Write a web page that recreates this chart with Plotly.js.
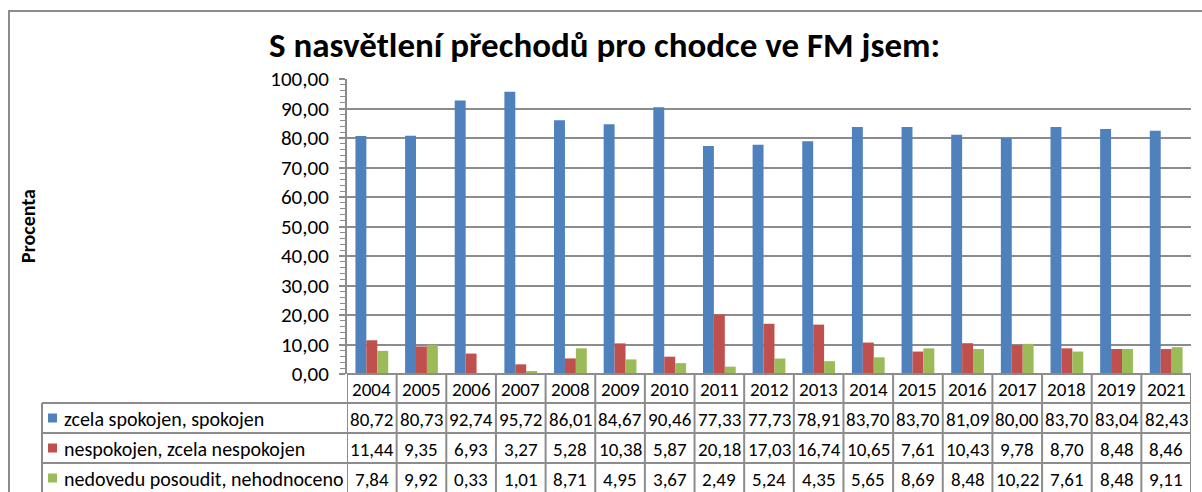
<!DOCTYPE html>
<html><head><meta charset="utf-8">
<script src="https://cdn.plot.ly/plotly-3.0.1.min.js"></script>
<style>body{margin:0;background:#fff}#c{width:1202px;height:492px}</style>
</head><body><div id="c"></div>
<script>
var years = ['2004','2005','2006','2007','2008','2009','2010','2011','2012','2013','2014','2015','2016','2017','2018','2019','2021'];
var seriesNames = ['zcela spokojen, spokojen','nespokojen, zcela nespokojen','nedovedu posoudit, nehodnoceno'];
var spokojen = [80.72,80.73,92.74,95.72,86.01,84.67,90.46,77.33,77.73,78.91,83.70,83.70,81.09,80.00,83.70,83.04,82.43];
var nespokojen = [11.44,9.35,6.93,3.27,5.28,10.38,5.87,20.18,17.03,16.74,10.65,7.61,10.43,9.78,8.70,8.48,8.46];
var nedovedu = [7.84,9.92,0.33,1.01,8.71,4.95,3.67,2.49,5.24,4.35,5.65,8.69,8.48,10.22,7.61,8.48,9.11];
var colors = ['#4F81BD','#C0504D','#9BBB59'];
var allSeries = [spokojen, nespokojen, nedovedu];

var W = 1202, H = 492, L = 347, R = 11, T = 79, B = 118;
var pw = W - L - R, ph = H - T - B;
function px(p){ return (p - L) / pw; }
function py(p){ return (H - B - p) / ph; }
var font = 'Calibri, Carlito, "Liberation Sans", Arial, sans-serif';
var gridc = '#8c8c8c';

var traces = allSeries.map(function(s, i){
  return {type:'bar', x: years, y: s, name: seriesNames[i],
    marker:{color: colors[i]}, showlegend:false, hoverinfo:'x+y'};
});

var shapes = [], ann = [];
shapes.push({type:'rect', xref:'paper', yref:'paper', x0:px(9), x1:px(1215), y0:py(510), y1:py(11),
  line:{color:'#8c8c8c', width:2}, fillcolor:'rgba(0,0,0,0)', layer:'below'});
var rowY = [374, 403, 433, 463, 493];
var tableLeft = 42;
shapes.push({type:'line', xref:'paper', yref:'paper', x0:0, x1:1, y0:py(rowY[0]), y1:py(rowY[0]), line:{color:gridc, width:2}});
for (var r = 1; r < rowY.length; r++) {
  shapes.push({type:'line', xref:'paper', yref:'paper', x0:px(tableLeft), x1:1, y0:py(rowY[r]), y1:py(rowY[r]), line:{color:gridc, width:2}});
}
for (var k = 0; k <= years.length; k++) {
  var xv = k - 0.5;
  shapes.push({type:'line', xref:'x', yref:'paper', x0:xv, x1:xv, y0:py(rowY[0]), y1:py(rowY[4]), line:{color:gridc, width:2}});
}
shapes.push({type:'line', xref:'paper', yref:'paper', x0:px(tableLeft), x1:px(tableLeft), y0:py(rowY[1]), y1:py(rowY[4]), line:{color:gridc, width:2}});

years.forEach(function(y, i){
  ann.push({xref:'x', yref:'paper', x:i, y:py((rowY[0]+rowY[1])/2 + 1), text:y, showarrow:false,
    font:{family:font, size:19, color:'#000'}, xanchor:'center', yanchor:'middle'});
});
function fmt(v){ return v.toFixed(2).replace('.', ','); }
allSeries.forEach(function(s, si){
  var yc = py((rowY[si+1]+rowY[si+2])/2 + 1);
  shapes.push({type:'rect', xref:'paper', yref:'paper', x0:px(48), x1:px(57),
    y0:py((rowY[si+1]+rowY[si+2])/2 + 4.5), y1:py((rowY[si+1]+rowY[si+2])/2 - 4.5),
    fillcolor:colors[si], line:{width:0}});
  ann.push({xref:'paper', yref:'paper', x:px(62), y:yc, text:seriesNames[si], showarrow:false,
    font:{family:font, size:20, color:'#000'}, xanchor:'left', yanchor:'middle'});
  s.forEach(function(v, i){
    ann.push({xref:'x', yref:'paper', x:i, y:yc, text:fmt(v), showarrow:false,
      font:{family:font, size:19, color:'#000'}, xanchor:'center', yanchor:'middle'});
  });
});
ann.push({xref:'paper', yref:'paper', x:px(28), y:py(226), text:'<b>Procenta</b>', textangle:-90, showarrow:false,
  font:{family:font, size:20, color:'#000'}, xanchor:'center', yanchor:'middle'});

var layout = {
  width: W, height: H,
  margin:{l:L, r:R, t:T, b:B, pad:0},
  paper_bgcolor:'#fff', plot_bgcolor:'#fff',
  separators: ', ',
  title:{text:'<b>S nasvětlení přechodů pro chodce ve FM jsem:</b>', x:0.503, xanchor:'center', y:1-45/H, yanchor:'middle',
    font:{family:font, size:35, color:'#000'}},
  barmode:'group', bargap:0.34, bargroupgap:0,
  xaxis:{type:'category', range:[-0.5, years.length-0.5], showticklabels:false, ticks:'', showgrid:false,
    showline:false, zeroline:false, fixedrange:true},
  yaxis:{range:[0,100], dtick:10, tickformat:'.2f', showgrid:true, gridcolor:gridc, gridwidth:2,
    showline:true, linecolor:gridc, linewidth:2, ticks:'outside', ticklen:6, tickcolor:gridc, tickwidth:2,
    minor:{dtick:2, ticks:'outside', ticklen:5, tickcolor:gridc, tickwidth:1, showgrid:false},
    zeroline:false, ticklabelstandoff:6,
    tickfont:{family:font, size:21, color:'#000'}, fixedrange:true},
  shapes: shapes,
  annotations: ann
};
Plotly.newPlot('c', traces, layout, {displayModeBar:false, staticPlot:true});
</script>
</body></html>
